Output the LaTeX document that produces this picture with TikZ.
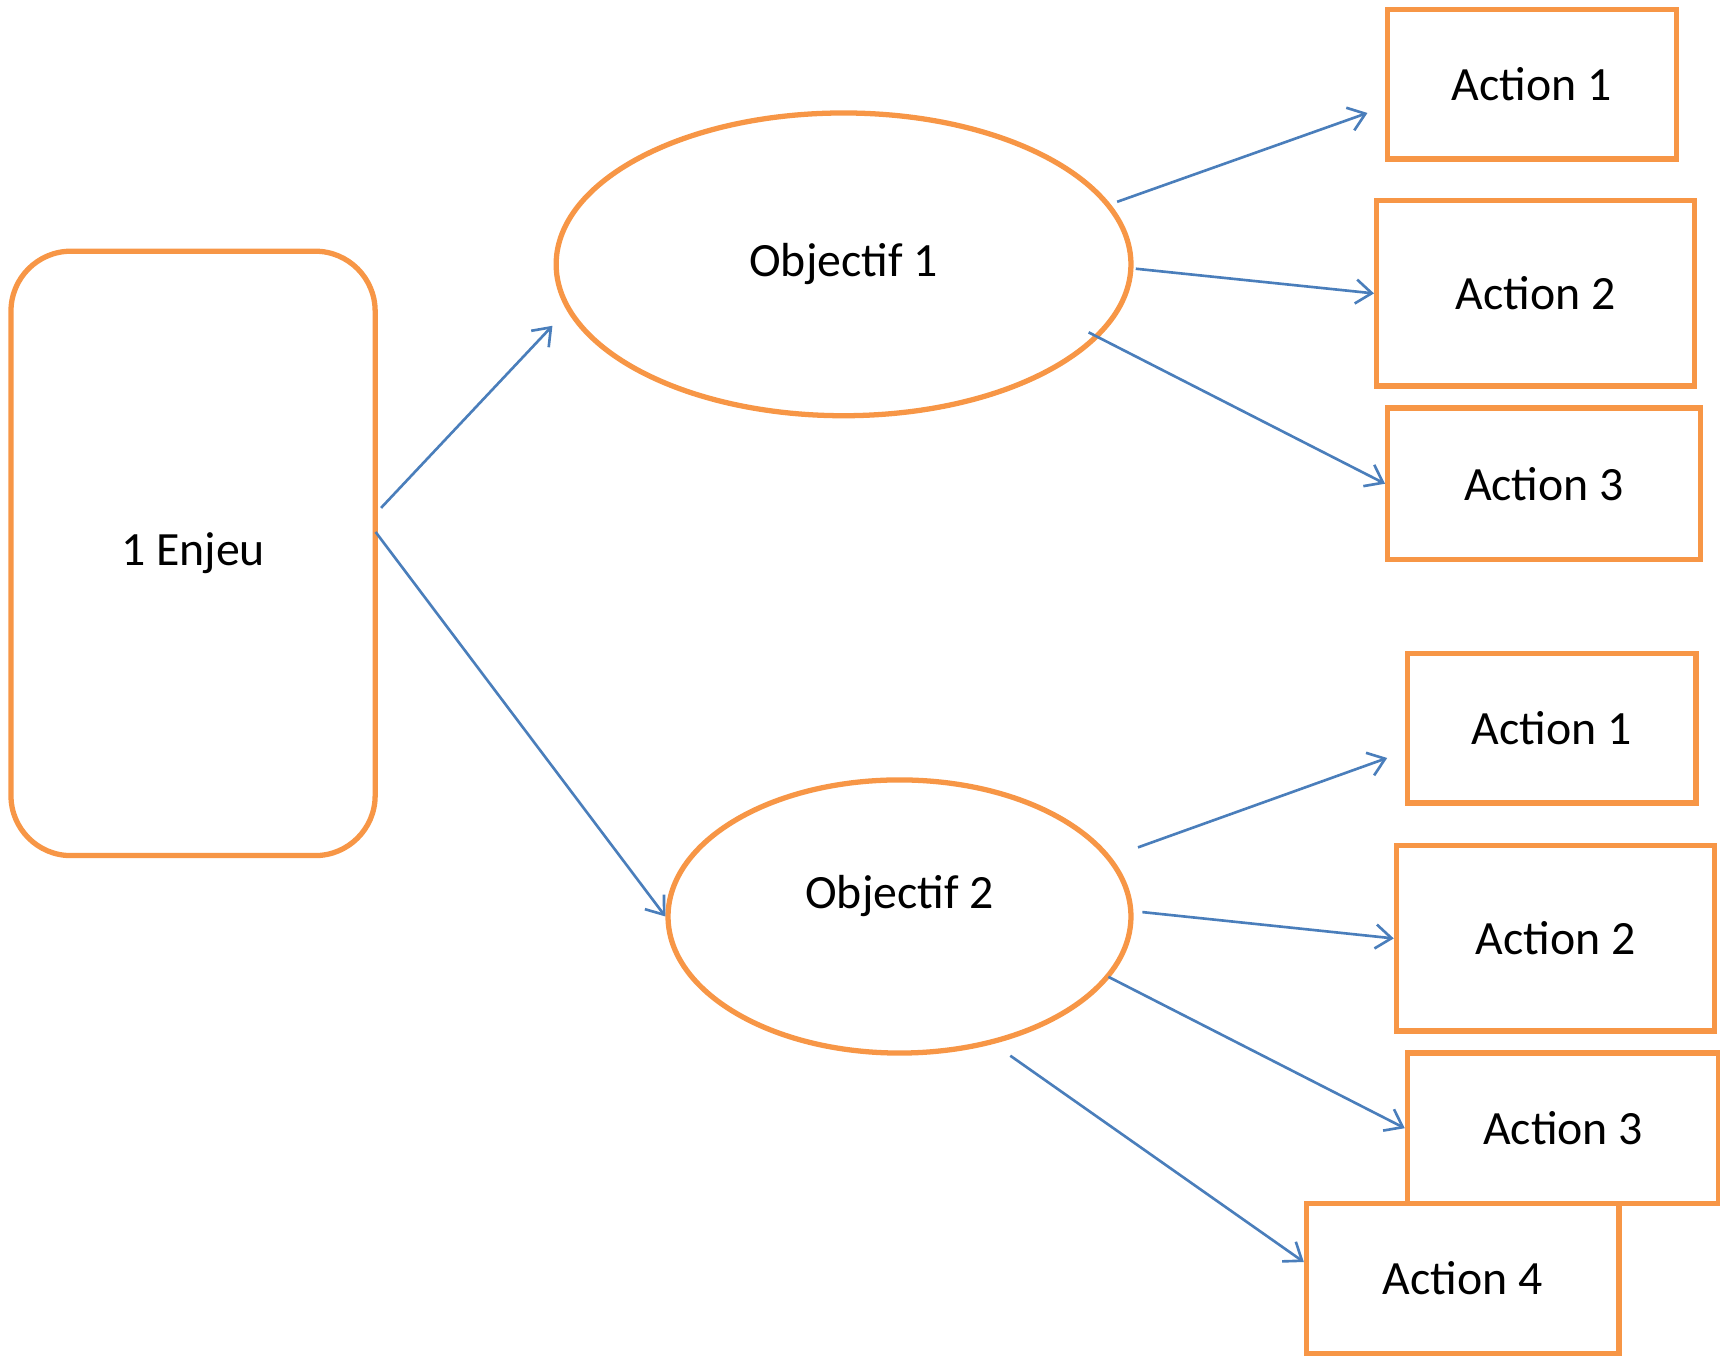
\documentclass[tikz,border=0pt]{standalone}
\usepackage{fontspec}
\setmainfont{Carlito}
\usetikzlibrary{arrows.meta,calc,shapes.geometric}
\definecolor{orangeoff}{HTML}{F79646}
\definecolor{bleuoff}{HTML}{4A7EBB}
\newcommand{\px}{0.010969cm}
\newcommand{\taille}{\fontsize{13.6}{16}\selectfont}

\begin{document}
\begin{tikzpicture}[x=\px,y=-\px,
   contour/.style={draw=orangeoff,line width=1.5pt,fill=white,inner sep=0pt,font=\taille},
   enjeubox/.style={contour,rectangle,rounded corners=0.6cm},
   objectif/.style={contour,ellipse},
   actionbox/.style={contour,rectangle},
   lien/.style={draw=bleuoff,line width=0.75pt,-{Straight Barb[length=1.6mm,width=2.4mm]}}]
   \useasboundingbox (0,0) rectangle (1568,1236);
   \node[enjeubox,minimum width=332*\px,minimum height=551*\px] (enjeu) at (176,504.5) {1 Enjeu};
   \node[objectif,minimum width=524*\px,minimum height=276*\px] (obj1) at (769,241) {Objectif 1};
   \node[objectif,minimum width=422*\px,minimum height=249*\px,
         label={[font=\taille,yshift=19*\px]center:Objectif 2}] (obj2) at (820,835.5) {};
   \node[actionbox,minimum width=263*\px,minimum height=136*\px] (a1) at (1396.5,77) {Action 1};
   \node[actionbox,minimum width=290*\px,minimum height=169*\px] (a2) at (1400,267.5) {Action 2};
   \node[actionbox,minimum width=285*\px,minimum height=138*\px] (a3) at (1407.5,441) {Action 3};
   \node[actionbox,minimum width=263*\px,minimum height=136*\px] (b1) at (1414.5,664) {Action 1};
   \node[actionbox,minimum width=290*\px,minimum height=169*\px] (b2) at (1418,855.5) {Action 2};
   \node[actionbox,minimum width=284*\px,minimum height=137*\px] (b3) at (1425,1028.5) {Action 3};
   \node[actionbox,minimum width=285*\px,minimum height=137*\px] (b4) at (1333.5,1165.5) {Action 4};
   \draw[lien] ($(enjeu.east)+(3,-41.5)$) -- ($(obj1.west)+(-1,56)$);
   \draw[lien] ($(enjeu.east)+(-2,-19.5)$) -- (obj2.west);
   \draw[lien] ($(obj1.east)+(-15,-57)$) -- ($(a1.west)+(-16,26)$);
   \draw[lien] ($(obj1.east)+(2,4)$) -- (a2.west);
   \draw[lien] ($(obj1.east)+(-41,62)$) -- (a3.west);
   \draw[lien] ($(obj2.east)+(4,-63)$) -- ($(b1.west)+(-16,27)$);
   \draw[lien] ($(obj2.east)+(8,-4)$) -- (b2.west);
   \draw[lien] ($(obj2.east)+(-23,55)$) -- (b3.west);
   \draw[lien] ($(obj2.south)+(101,0)$) -- ($(b4.west)+(0,-15)$);
\end{tikzpicture}
\end{document}
